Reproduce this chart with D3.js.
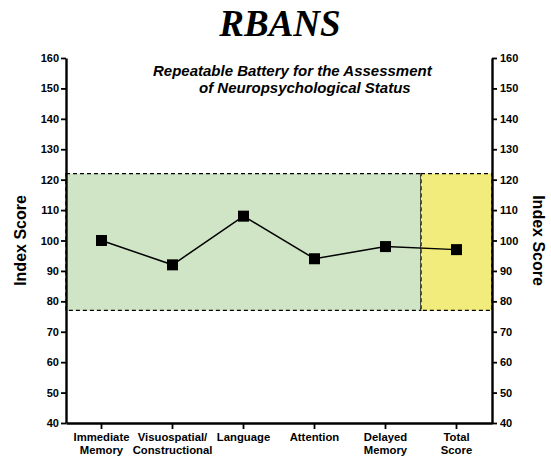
<!DOCTYPE html>
<html>
<head>
<meta charset="utf-8">
<script src="https://cdn.jsdelivr.net/npm/d3@7"></script>
<style>
  body { margin: 0; background: #fff; }
</style>
</head>
<body>
<div id="chart"></div>
<script>
// categories (two-line labels) and scores
const categories = ["Immediate Memory", "Visuospatial Constructional", "Language", "Attention", "Delayed Memory", "Total Score"]
const labelLines = [["Immediate", "Memory"], ["Visuospatial/", "Constructional"], ["Language"], ["Attention"], ["Delayed", "Memory"], ["Total", "Score"]]
const scores = [100, 92, 108, 94, 98, 97]
const yTicks = [40, 50, 60, 70, 80, 90, 100, 110, 120, 130, 140, 150, 160]
const normalRange = [77, 122]

const width = 551, height = 463
const margin = {top: 58, right: 59, bottom: 40, left: 66}
const sans = "Arial, 'Liberation Sans', sans-serif"

const svg = d3.select("#chart").append("svg")
  .attr("width", width)
  .attr("height", height)
  .style("font-family", sans)

const x = d3.scaleBand()
  .domain(categories)
  .range([margin.left, width - margin.right])

const y = d3.scaleLinear()
  .domain([40, 160])
  .range([height - margin.bottom, margin.top])

// shaded normal range: subtests green, total yellow
const lastSub = categories[4], total = categories[5]
svg.append("rect")
  .attr("x", x(categories[0]))
  .attr("y", y(normalRange[1]))
  .attr("width", x(lastSub) + x.bandwidth() - x(categories[0]))
  .attr("height", y(normalRange[0]) - y(normalRange[1]))
  .attr("fill", "#cfe5c5")
  .attr("stroke", "#000")
  .attr("stroke-width", 1.3)
  .attr("stroke-dasharray", "4,3")

svg.append("rect")
  .attr("x", x(total))
  .attr("y", y(normalRange[1]))
  .attr("width", x.bandwidth())
  .attr("height", y(normalRange[0]) - y(normalRange[1]))
  .attr("fill", "#f2ec7c")
  .attr("stroke", "#000")
  .attr("stroke-width", 1.3)
  .attr("stroke-dasharray", "4,3")

// axes
const yLeft = d3.axisLeft(y).tickValues(yTicks).tickSize(5).tickPadding(2)
const yRight = d3.axisRight(y).tickValues(yTicks).tickSize(5).tickPadding(3)
const xAxis = d3.axisBottom(x).tickSize(6).tickFormat("")

function styleAxis(g) {
  g.select(".domain").attr("stroke-width", 2.4)
  g.selectAll(".tick line").attr("stroke-width", 1.8)
  g.selectAll(".tick text")
    .attr("font-size", 11)
    .attr("font-weight", "bold")
    .attr("fill", "#000")
    .attr("font-family", sans)
}

svg.append("g")
  .attr("transform", `translate(${margin.left},0)`)
  .call(yLeft.tickSizeOuter(0))
  .call(styleAxis)

svg.append("g")
  .attr("transform", `translate(${width - margin.right},0)`)
  .call(yRight.tickSizeOuter(0))
  .call(styleAxis)

svg.append("g")
  .attr("transform", `translate(0,${height - margin.bottom})`)
  .call(xAxis.tickSizeOuter(0))
  .call(styleAxis)

// two-line category labels
labelLines.forEach((lines, i) => {
  const cx = x(categories[i]) + x.bandwidth() / 2
  const t = svg.append("text")
    .attr("x", cx)
    .attr("y", height - margin.bottom + 18)
    .attr("text-anchor", "middle")
    .attr("font-size", 11.3)
    .attr("font-weight", "bold")
  lines.forEach((l, j) => {
    t.append("tspan")
      .attr("x", cx)
      .attr("dy", j == 0 ? 0 : 13)
      .text(l)
  })
})

// line + square markers
const line = d3.line()
  .x((d, i) => x(categories[i]) + x.bandwidth() / 2)
  .y(d => y(d))

svg.append("path")
  .datum(scores)
  .attr("d", line)
  .attr("fill", "none")
  .attr("stroke", "#000")
  .attr("stroke-width", 1.5)

const s = 11
svg.selectAll(".pt")
  .data(scores)
  .enter()
  .append("rect")
  .attr("class", "pt")
  .attr("x", (d, i) => x(categories[i]) + x.bandwidth() / 2 - s / 2)
  .attr("y", d => y(d) - s / 2)
  .attr("width", s)
  .attr("height", s)
  .attr("fill", "#000")

// titles
svg.append("text")
  .attr("x", 280)
  .attr("y", 36)
  .attr("text-anchor", "middle")
  .style("font-family", "'Liberation Serif', 'Times New Roman', serif")
  .attr("font-size", 37)
  .attr("font-weight", "bold")
  .attr("font-style", "italic")
  .text("RBANS")

svg.append("text")
  .attr("x", 153)
  .attr("y", 76)
  .attr("font-size", 15)
  .attr("font-weight", "bold")
  .attr("font-style", "italic")
  .text("Repeatable Battery for the Assessment")

svg.append("text")
  .attr("x", 199)
  .attr("y", 93)
  .attr("font-size", 15)
  .attr("font-weight", "bold")
  .attr("font-style", "italic")
  .text("of Neuropsychological Status")

// axis titles
svg.append("text")
  .attr("transform", `translate(26,${y(100)}) rotate(-90)`)
  .attr("text-anchor", "middle")
  .attr("font-size", 16)
  .attr("font-weight", "bold")
  .text("Index Score")

svg.append("text")
  .attr("transform", `translate(533,${y(100)}) rotate(90)`)
  .attr("text-anchor", "middle")
  .attr("font-size", 16)
  .attr("font-weight", "bold")
  .text("Index Score")
</script>
</body>
</html>
